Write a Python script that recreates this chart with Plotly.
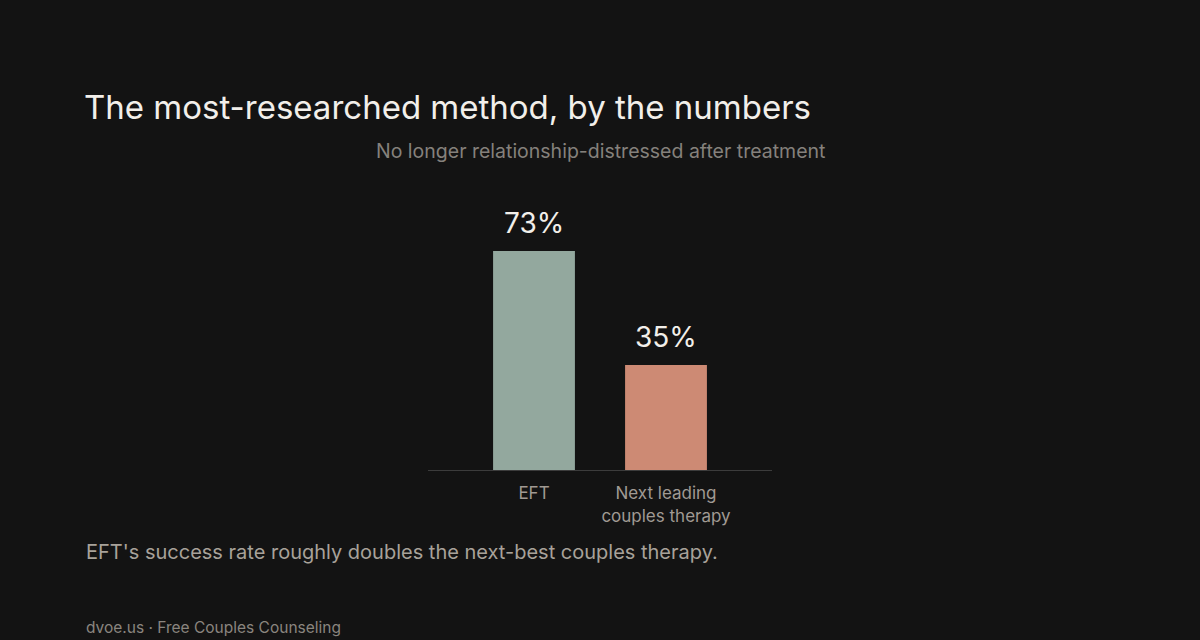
import plotly.graph_objects as go

categories = ["EFT", "Next leading<br>couples therapy"]
values = [73, 35]
labels = ["73%", "35%"]
colors = ["#93a89e", "#cd8a74"]

FONT = "Inter, 'Noto Sans', sans-serif"

fig = go.Figure(go.Bar(
    x=categories, y=values, marker=dict(color=colors, line=dict(width=0)),
    width=0.62, hoverinfo="skip",
))

for c, v, t in zip(categories, values, labels):
    fig.add_annotation(x=c, y=v, text=t, showarrow=False, yanchor="bottom", yshift=9,
                       font=dict(family=FONT, size=28, color="#f2efea"))

fig.add_annotation(xref="paper", yref="paper", x=0.5, y=1.0, yshift=49, text="No longer relationship-distressed after treatment",
                   showarrow=False, xanchor="center", yanchor="middle",
                   font=dict(family=FONT, size=19.5, color="#85817c"))

fig.update_layout(
    width=1200, height=640,
    paper_bgcolor="#131313", plot_bgcolor="#131313",
    margin=dict(l=428, r=428, t=200, b=170),
    showlegend=False,
    title=dict(text="The most-researched method, by the numbers", x=84/1200, xanchor="left",
               y=1 - 107/640, yanchor="middle", xref="container", yref="container",
               font=dict(family=FONT, size=33, color="#f2efea")),
    xaxis=dict(range=[-0.803, 1.803], showgrid=False, zeroline=False, showline=True,
               linecolor="#3c3c3c", linewidth=1, ticks="outside", ticklen=8, tickcolor="rgba(0,0,0,0)",
               tickfont=dict(family=FONT, size=17, color="#a09a93")),
    yaxis=dict(range=[0, 90], visible=False),
)

fig.add_annotation(xref="paper", yref="paper", x=-(428-84)/344, y=-(552-470)/270, text="EFT's success rate roughly doubles the next-best couples therapy.",
                   showarrow=False, xanchor="left", yanchor="middle",
                   font=dict(family=FONT, size=20, color="#a8a29a"))
fig.add_annotation(xref="paper", yref="paper", x=-(428-84)/344, y=-(627-470)/270, text="dvoe.us · Free Couples Counseling",
                   showarrow=False, xanchor="left", yanchor="middle",
                   font=dict(family=FONT, size=15.5, color="#8a857f"))

fig.write_html("out.html")
